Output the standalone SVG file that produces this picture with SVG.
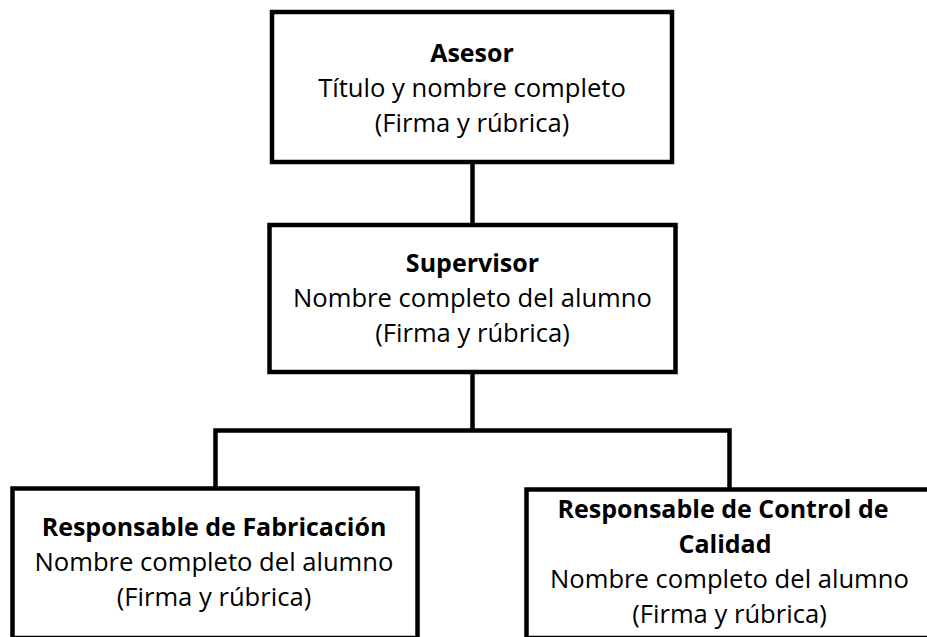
<svg xmlns="http://www.w3.org/2000/svg" width="927" height="637" viewBox="0 0 927 637">
<style>
.box{fill:#fff;stroke:#000;stroke-width:4.5}
.wire{fill:none;stroke:#000;stroke-width:4.5}
text{font-family:"Open Sans","Noto Sans","Liberation Sans",sans-serif;font-size:25.6px;fill:#000;text-anchor:middle}
.b{font-weight:bold;font-size:25px}
</style>
<rect width="927" height="637" fill="#fff"/>
<g id="connectors">
<line class="wire" x1="472.5" y1="162" x2="472.5" y2="225"/>
<line class="wire" x1="472.5" y1="372" x2="472.5" y2="430.5"/>
<polyline class="wire" points="215.5,488.5 215.5,430.5 729.5,430.5 729.5,489.5"/>
</g>
<g id="asesor">
<rect class="box" x="272" y="12" width="400" height="150"/>
<text class="b" x="472" y="62">Asesor</text>
<text x="472" y="97">Título y nombre completo</text>
<text x="472" y="132">(Firma y rúbrica)</text>
</g>
<g id="supervisor">
<rect class="box" x="269.5" y="225" width="406" height="147"/>
<text class="b" x="472.5" y="272">Supervisor</text>
<text x="472.5" y="307">Nombre completo del alumno</text>
<text x="472.5" y="342">(Firma y rúbrica)</text>
</g>
<g id="fabricacion">
<rect class="box" x="12.5" y="488.5" width="405" height="149.5"/>
<text class="b" x="214" y="536">Responsable de Fabricación</text>
<text x="214" y="571">Nombre completo del alumno</text>
<text x="214" y="606">(Firma y rúbrica)</text>
</g>
<g id="calidad">
<rect class="box" x="526.5" y="489.5" width="410" height="148.5"/>
<text class="b" x="723" y="518">Responsable de Control de</text>
<text class="b" x="725" y="553">Calidad</text>
<text x="729.5" y="588">Nombre completo del alumno</text>
<text x="729.5" y="623">(Firma y rúbrica)</text>
</g>
</svg>
